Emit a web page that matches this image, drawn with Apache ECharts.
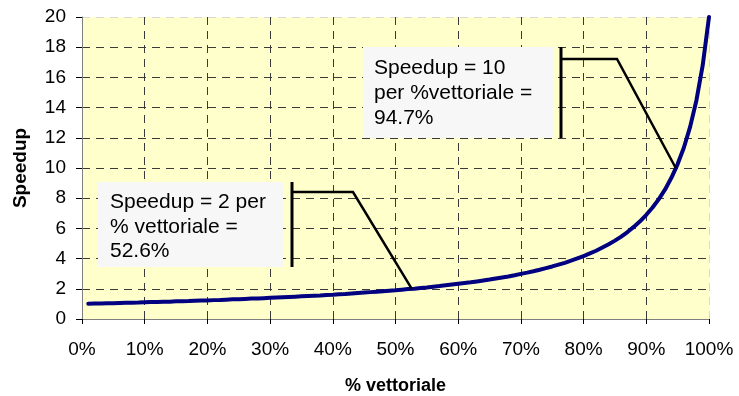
<!DOCTYPE html>
<html><head><meta charset="utf-8">
<script src="https://cdn.jsdelivr.net/npm/echarts@6/dist/echarts.min.js"></script>
<style>html,body{margin:0;padding:0;background:#fff}#c{width:739px;height:396px}</style>
</head><body><div id="c"></div>
<script>
// % vettoriale (x) and Speedup (y)
const vettorialePct = [1,2,3,4,5,6,7,8,9,10,11,12,13,14,15,16,17,18,19,20,21,22,23,24,25,26,27,28,29,30,31,32,33,34,35,36,37,38,39,40,41,42,43,44,45,46,47,48,49,50,51,52,53,54,55,56,57,58,59,60,61,62,63,64,65,66,67,68,69,70,71,72,73,74,75,76,77,78,79,80,81,82,83,84,85,86,87,88,89,90,91,92,93,94,95,96,97,98,99,100];
const speedupValues = [1.01,1.02,1.03,1.04,1.05,1.06,1.07,1.08,1.09,1.11,1.12,1.13,1.14,1.15,1.17,1.18,1.19,1.21,1.22,1.23,1.25,1.26,1.28,1.30,1.31,1.33,1.35,1.36,1.38,1.40,1.42,1.44,1.46,1.48,1.50,1.52,1.54,1.56,1.59,1.61,1.64,1.66,1.69,1.72,1.75,1.78,1.81,1.84,1.87,1.90,1.94,1.98,2.01,2.05,2.09,2.14,2.18,2.23,2.28,2.33,2.38,2.43,2.49,2.55,2.61,2.68,2.75,2.82,2.90,2.99,3.07,3.16,3.26,3.37,3.48,3.60,3.72,3.86,4.01,4.17,4.34,4.52,4.73,4.95,5.19,5.46,5.76,6.10,6.47,6.90,7.38,7.94,8.58,9.35,10.26,11.36,12.74,14.49,16.81,20.00];
const annotationPoints = [[52.6, 2], [94.7, 10]];
const annotationTexts = [
  ['Speedup = 2 per', '% vettoriale =', '52.6%'],
  ['Speedup = 10', 'per %vettoriale =', '94.7%']
];
const yTickLabels = ['0','2','4','6','8','10','12','14','16','18','20'];

const FONT = 'Liberation Sans, Arial, sans-serif';
const chart = echarts.init(document.getElementById('c'), null, {renderer: 'canvas'});

const gridDash = [8, 6];
const G = '#3a3a3a';
const gridColors = [G,G,G,G,G,G,G,G,G,G,'#d8d8d8'];
const option = {
  animation: false,
  grid: {left: 82, right: 30, top: 17, bottom: 77, show: true, backgroundColor: '#FFFFCC', borderWidth: 0, containLabel: false, outerBoundsMode: 'none'},
  xAxis: {
    type: 'value', min: 0, max: 100, interval: 10,
    name: '% vettoriale', nameLocation: 'middle', nameGap: 58,
    nameTextStyle: {fontFamily: FONT, fontWeight: 'bold', fontSize: 18, color: '#000'},
    axisLine: {show: true, lineStyle: {color: '#808080', width: 1}},
    axisTick: {show: true, length: 5, lineStyle: {color: '#000'}},
    axisLabel: {formatter: '{value}%', fontFamily: FONT, fontSize: 19, color: '#000', margin: 21},
    splitLine: {show: true, lineStyle: {type: gridDash, color: gridColors, width: 1}}
  },
  yAxis: {
    type: 'value', min: 0, max: 20, interval: 2,
    name: 'Speedup', nameLocation: 'middle', nameGap: 52,
    nameTextStyle: {fontFamily: FONT, fontWeight: 'bold', fontSize: 19, color: '#000'},
    axisLine: {show: true, lineStyle: {color: '#808080', width: 1}},
    axisTick: {show: true, length: 6, lineStyle: {color: '#000'}},
    axisLabel: {fontFamily: FONT, fontSize: 19, color: '#000', margin: 16,
      formatter: function (v) { return yTickLabels[Math.round(v / 2)]; }},
    splitLine: {show: true, lineStyle: {type: gridDash, color: gridColors, width: 1}}
  },
  series: [{
    type: 'line',
    data: vettorialePct.map((x, i) => [x, speedupValues[i]]),
    showSymbol: false, symbol: 'none',
    lineStyle: {color: '#000080', width: 4, cap: 'round', join: 'round'},
    clip: false
  }]
};
chart.setOption(option);

// callout layout (pixel placement of the text boxes)
const boxes = [
  {x: 98, y: 182, w: 185, h: 85, textX: 110, lineY: [202, 227, 251], barX: 292, elbowX: 353, elbowY: 192},
  {x: 363, y: 47, w: 190, h: 91, textX: 374, lineY: [68, 93, 118], barX: 561, elbowX: 617, elbowY: 59}
];
const graphics = [];
boxes.forEach((b, i) => {
  const p = chart.convertToPixel({gridIndex: 0}, annotationPoints[i]);
  graphics.push({type: 'rect', shape: {x: b.x, y: b.y, width: b.w, height: b.h}, style: {fill: '#F7F7F7'}, z: 10});
  annotationTexts[i].forEach((t, k) => {
    graphics.push({type: 'text', x: b.textX, y: b.lineY[k], style: {text: t, font: '21px ' + FONT, fill: '#000', verticalAlign: 'middle', align: 'left'}, z: 11});
  });
  graphics.push({type: 'line', shape: {x1: b.barX, y1: b.y, x2: b.barX, y2: b.y + b.h}, style: {stroke: '#000', lineWidth: 3}, z: 11});
  graphics.push({type: 'polyline', shape: {points: [[b.barX, b.elbowY], [b.elbowX, b.elbowY], [p[0], p[1]]]}, style: {stroke: '#000', lineWidth: 2.5, fill: null}, z: 11});
});
chart.setOption({graphic: graphics});
</script>
</body></html>
